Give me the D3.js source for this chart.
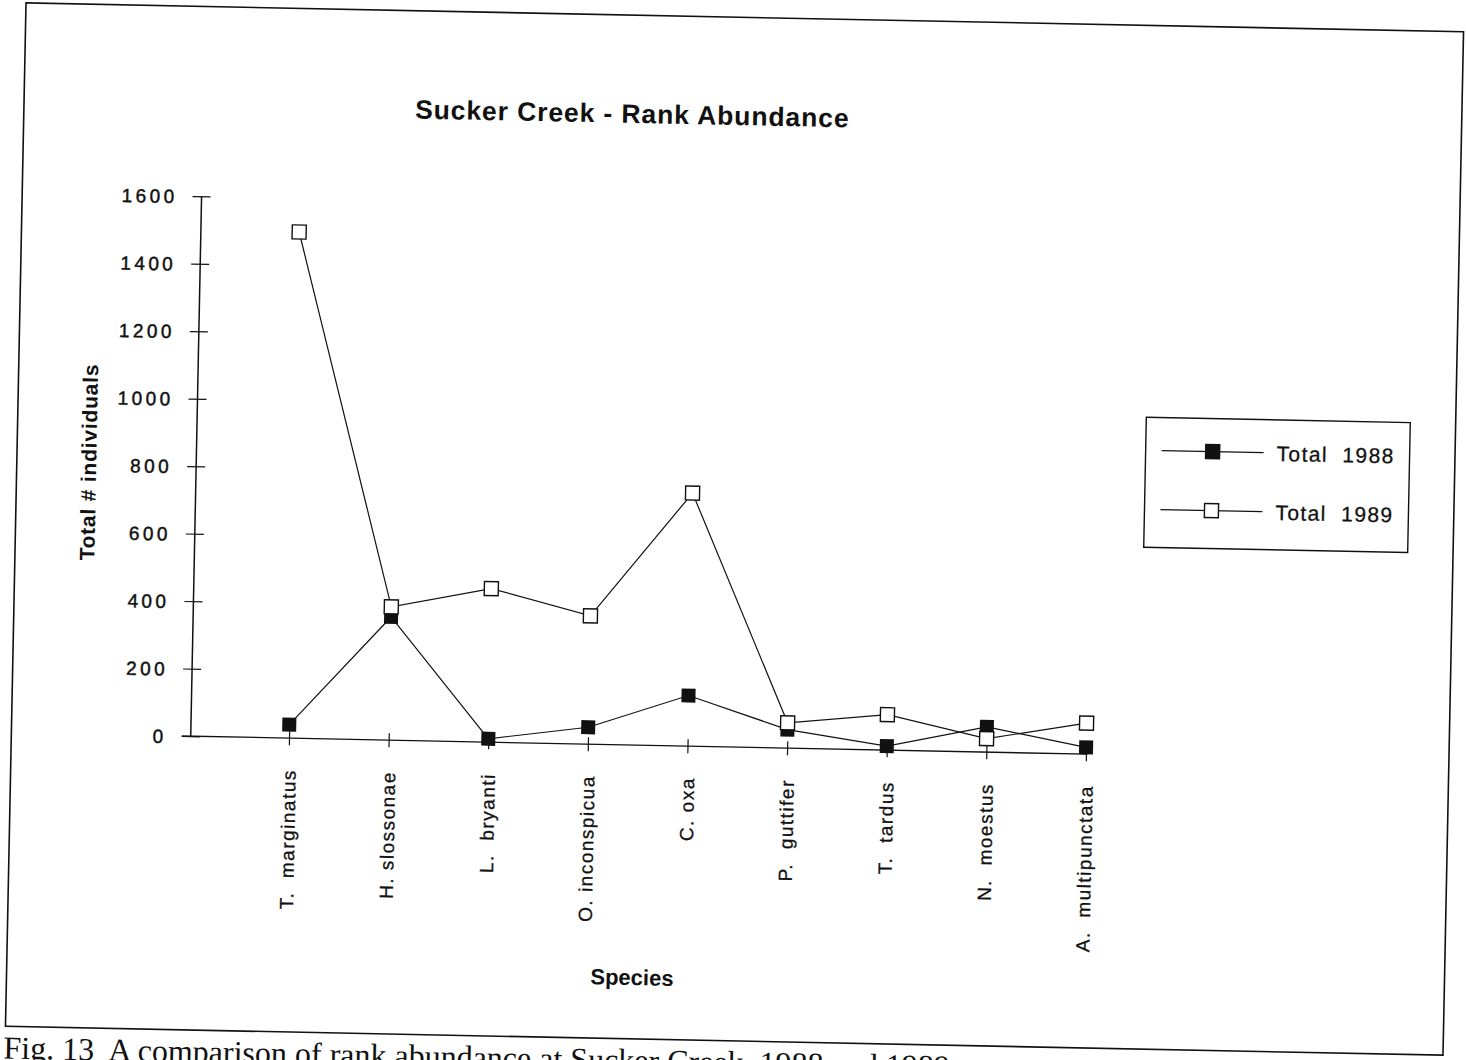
<!DOCTYPE html>
<html>
<head>
<meta charset="utf-8">
<script src="https://cdn.jsdelivr.net/npm/d3@7"></script>
<style>
  html, body { margin: 0; padding: 0; background: #fff; }
  svg { display: block; }
  text { fill: #111; }
</style>
</head>
<body>
<svg id="chart" width="1466" height="1060"></svg>
<script>
// Species ranked along the x axis
const species = [
  "T.  marginatus", "H. slossonae", "L.  bryanti", "O. inconspicua", "C. oxa",
  "P.  guttifer", "T.  tardus", "N.  moestus", "A.  multipunctata"
];
// Total number of individuals collected per species
const total1988 = [40, 365, 10, 50, 150, 55, 12, 75, 20];
const total1989 = [1500, 395, 455, 380, 750, 75, 105, 40, 92];
const yTicks = [0, 200, 400, 600, 800, 1000, 1200, 1400, 1600];
const seriesNames = ["Total  1988", "Total  1989"];

const svg = d3.select("#chart");
const ink = "#111";
const sans = "'Liberation Sans', Arial, sans-serif";

// The printed page sits slightly askew; everything is drawn square and then turned a little.
const page = svg.append("g").attr("transform", "rotate(1.15 733 529)");

// Outer frame
page.append("rect")
  .attr("x", 15.6).attr("y", 17.2).attr("width", 1437.8).attr("height", 1023.6)
  .attr("fill", "none").attr("stroke", ink).attr("stroke-width", 1.6);

const axisX = 195, xEnd = 1092;
const y = d3.scaleLinear().domain([0, 1600]).range([747, 207]);
const x = d3.scalePoint().domain(species).range([293.3, 1090.4]);

// Y axis with ticks crossing the line
const yAxis = page.append("g")
  .attr("transform", `translate(${axisX},0)`)
  .call(d3.axisLeft(y).tickValues(yTicks).tickSize(9).tickPadding(0).tickFormat(d3.format("d")));
yAxis.select(".domain").remove();
yAxis.selectAll(".tick line").attr("x1", 9).attr("x2", -9).attr("stroke", ink).attr("stroke-width", 1.2);
yAxis.selectAll(".tick text")
  .attr("x", -24)
  .attr("dy", "0.36em")
  .attr("fill", ink)
  .style("font-family", sans)
  .style("font-size", "19px")
  .style("letter-spacing", "3.4px")
  .style("stroke", ink).style("stroke-width", "0.45px");
page.append("line")
  .attr("x1", axisX).attr("x2", axisX).attr("y1", y(1600)).attr("y2", y(0))
  .attr("stroke", ink).attr("stroke-width", 1.5);

// X axis along zero
const xAxis = page.append("g")
  .attr("transform", `translate(0,${y(0)})`)
  .call(d3.axisBottom(x).tickSize(7).tickPadding(0));
xAxis.select(".domain").remove();
xAxis.selectAll(".tick line").attr("y1", -7).attr("y2", 7).attr("stroke", ink).attr("stroke-width", 1.2);
xAxis.selectAll(".tick text")
  .attr("transform", "rotate(-90)")
  .attr("x", -31).attr("y", 0).attr("dy", "0.36em")
  .attr("text-anchor", "end")
  .attr("fill", ink)
  .style("white-space", "pre")
  .style("font-family", sans)
  .style("font-size", "19px")
  .style("letter-spacing", "1.5px")
  .style("stroke", ink).style("stroke-width", "0.3px");
page.append("line")
  .attr("x1", 186).attr("x2", xEnd).attr("y1", y(0)).attr("y2", y(0))
  .attr("stroke", ink).attr("stroke-width", 1.3);

// Series lines and markers
const line = d3.line().x((d, i) => x(species[i])).y(d => y(d));
[total1988, total1989].forEach(vals => {
  page.append("path").datum(vals)
    .attr("d", line).attr("fill", "none").attr("stroke", ink).attr("stroke-width", 1.2);
});
const sq = 14;
page.selectAll(".m88").data(total1988).join("rect").attr("class", "m88")
  .attr("x", (d, i) => x(species[i]) - sq / 2).attr("y", d => y(d) - sq / 2)
  .attr("width", sq).attr("height", sq).attr("fill", ink);
page.selectAll(".m89").data(total1989).join("rect").attr("class", "m89")
  .attr("x", (d, i) => x(species[i]) - sq / 2).attr("y", d => y(d) - sq / 2)
  .attr("width", sq).attr("height", sq).attr("fill", "#fff").attr("stroke", ink).attr("stroke-width", 1.4);

// Titles
page.append("text").attr("x", 624).attr("y", 125).attr("text-anchor", "middle")
  .style("font-family", sans)
  .style("font-size", "26.5px").style("font-weight", "bold").style("letter-spacing", "0.9px")
  .text("Sucker Creek - Rank Abundance");
page.append("text").attr("transform", "translate(95,475) rotate(-90)").attr("text-anchor", "middle")
  .style("font-family", sans)
  .style("font-size", "21px").style("font-weight", "bold").style("letter-spacing", "0.8px")
  .text("Total # individuals");
page.append("text").attr("x", 641).attr("y", 987).attr("text-anchor", "middle")
  .style("font-family", sans)
  .style("font-size", "22px").style("font-weight", "bold")
  .text("Species");

// Legend
const legend = page.append("g");
legend.append("rect").attr("x", 1144).attr("y", 409).attr("width", 264).attr("height", 130)
  .attr("fill", "none").attr("stroke", ink).attr("stroke-width", 1.4);
const rows = [442, 501];
seriesNames.forEach((name, i) => {
  const ly = rows[i];
  legend.append("line").attr("x1", 1160).attr("x2", 1262).attr("y1", ly).attr("y2", ly)
    .attr("stroke", ink).attr("stroke-width", 1.1);
  legend.append("rect").attr("x", 1211 - sq / 2).attr("y", ly - sq / 2).attr("width", sq).attr("height", sq)
    .attr("fill", i === 0 ? ink : "#fff").attr("stroke", ink).attr("stroke-width", 1.4);
  legend.append("text").attr("x", 1275).attr("y", ly + 8)
    .style("white-space", "pre")
    .style("font-family", sans)
    .style("font-size", "21px").style("letter-spacing", "1.4px")
    .style("stroke", ink).style("stroke-width", "0.3px")
    .text(name);
});

// Figure caption below the frame
page.append("text").attr("x", 14).attr("y", 1073)
  .style("white-space", "pre")
  .style("font-family", "'Liberation Serif', 'Times New Roman', serif")
  .style("font-size", "32px")
  .text("Fig. 13  A comparison of rank abundance at Sucker Creek, 1988 and 1989");
</script>
</body>
</html>
